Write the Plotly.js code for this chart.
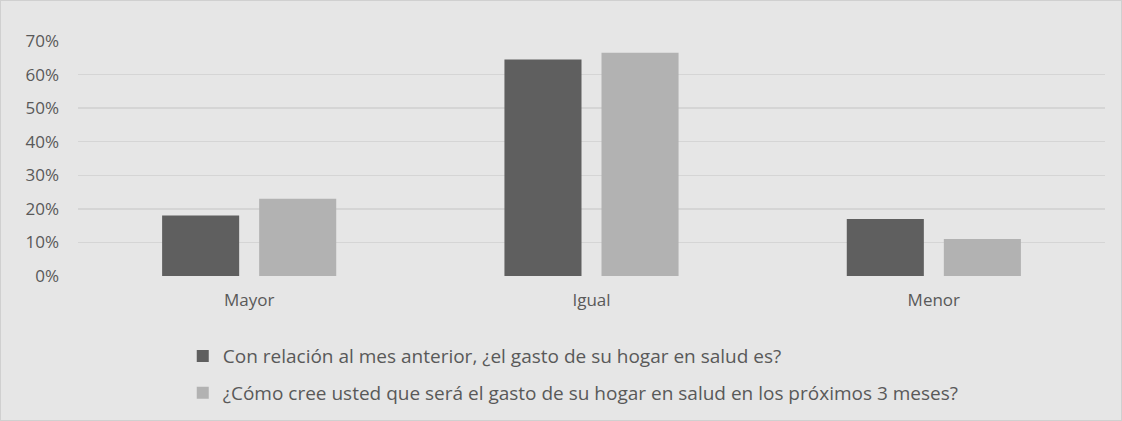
<!DOCTYPE html>
<html><head><meta charset="utf-8">
<script src="https://cdn.plot.ly/plotly-3.0.1.min.js"></script>
<style>html,body{margin:0;padding:0;background:#e6e6e6;}#c{width:1120px;height:419px;border:1px solid #d0d0d0;}</style>
</head><body><div id="c"></div>
<script>
const categories = ["Mayor", "Igual", "Menor"];
const seriesNames = ["Con relación al mes anterior, ¿el gasto de su hogar en salud es?",
                     "¿Cómo cree usted que será el gasto de su hogar en salud en los próximos 3 meses?"];
const serie1 = [0.18, 0.645, 0.17];
const serie2 = [0.23, 0.665, 0.11];
const colors = ["#5f5f5f", "#b2b2b2"];
const font = "'Open Sans', 'Liberation Sans', sans-serif";
const data = [
  {type:'bar', x:categories, y:serie1, name:seriesNames[0], marker:{color:colors[0]}, legendgroup:'a', hoverinfo:'none'},
  {type:'bar', x:categories, y:serie2, name:seriesNames[1], marker:{color:colors[1]}, legendgroup:'b', hoverinfo:'none'}
];
const layout = {
  width:1120, height:419,
  paper_bgcolor:'#e6e6e6', plot_bgcolor:'#e6e6e6',
  margin:{l:77, r:16, t:40, b:144, autoexpand:false},
  barmode:'group', bargap:0.433, bargroupgap:0.206,
  font:{family:font, size:18, color:'#595959'},
  xaxis:{showgrid:false, zeroline:false, showline:false, ticks:'', ticklabelstandoff:12, tickfont:{size:17, color:'#595959'}},
  yaxis:{range:[0,0.7], dtick:0.1, tickformat:'.0%', gridcolor:'#d5d5d5', gridwidth:1.5, zeroline:false, showline:false, ticklabelstandoff:18, tickfont:{size:17, color:'#595959'}, ticklen:0, ticks:''},
  showlegend:true,
  legend:{orientation:'v', x:0.102, xanchor:'left', y:-0.26, yanchor:'top', font:{size:19, color:'#595959'}, tracegroupgap:9, bgcolor:'rgba(0,0,0,0)', itemwidth:30}
};
Plotly.newPlot('c', data, layout, {displayModeBar:false, staticPlot:true});
</script></body></html>
